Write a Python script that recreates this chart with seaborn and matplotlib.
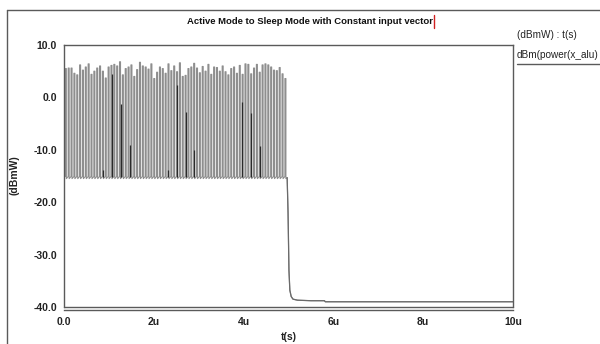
import matplotlib
matplotlib.use("Agg")
import matplotlib.pyplot as plt
import numpy as np
import pandas as pd
import seaborn as sns

# peak level (dBm) of each clock pulse while in active mode, left to right
pulse_peaks = [5.5, 5.6, 5.6, 4.6, 4.3, 6.2, 5.2, 5.8, 6.4, 4.4,
               5.0, 5.6, 6.0, 5.0, 3.7, 5.8, 6.1, 6.3, 6.0, 6.8,
               4.3, 5.5, 5.8, 6.2, 4.0, 5.3, 6.7, 6.0, 5.8, 5.4,
               6.4, 3.6, 4.8, 5.8, 5.5, 4.6, 6.4, 5.1, 6.0, 4.9,
               6.6, 4.0, 4.2, 5.5, 5.8, 6.5, 5.6, 4.7, 5.9, 5.0,
               6.3, 4.4, 5.8, 5.7, 5.0, 6.0, 4.9, 4.3, 5.5, 5.8,
               4.6, 6.1, 4.4, 6.4, 6.3, 4.5, 5.6, 6.3, 4.8, 6.2,
               6.4, 6.2, 5.8, 5.2, 5.1, 5.7, 4.5, 3.6]
first_pulse_us = 0.03
last_pulse_us = 4.92
pulse_width_us = 0.022
base_high = -15.1
base_low = -15.5

# darker glitch pulses (time in us, peak dBm)
glitch_t = [0.86, 1.06, 1.26, 1.46, 2.31, 2.51, 2.71, 2.89, 3.96, 4.16, 4.36]
glitch_v = [-13.8, 4.5, -1.2, -9.0, -13.8, 2.4, -2.8, -10.0, -0.8, -3.0, -9.2]

# transition to sleep mode
sleep_t = [4.97, 4.99, 5.01, 5.03, 5.06, 5.10, 5.20, 5.50, 5.80, 5.82, 10.0]
sleep_v = [-15.3, -22.0, -33.0, -36.8, -38.0, -38.5, -38.7, -38.8, -38.8, -39.0, -39.0]

x_ticks = [0, 2, 4, 6, 8, 10]
x_tick_labels = ["0.0", "2u", "4u", "6u", "8u", "10u"]
y_ticks = [10, 0, -10, -20, -30, -40]
y_tick_labels = ["10.0", "0.0", "-10.0", "-20.0", "-30.0", "-40.0"]

# build the active-mode waveform
pulse_t = np.linspace(first_pulse_us, last_pulse_us, len(pulse_peaks))
wave_t = [0.0]
wave_v = [base_high]
for t, p in zip(pulse_t, pulse_peaks):
    wave_t += [t, t, t + pulse_width_us, t + pulse_width_us]
    wave_v += [base_high, p, p, base_low]
wave_t += sleep_t
wave_v += sleep_v
wave = pd.DataFrame({"t": wave_t, "v": wave_v})

sns.set_style("white")
plt.rcParams["font.family"] = ["Liberation Sans", "DejaVu Sans"]

fig = plt.figure(figsize=(6.0, 3.44), dpi=100)
ax = fig.add_axes([64 / 600, 1 - 307 / 344, 449 / 600, 262 / 344])

frame_col = "#5a5a5a"
sns.lineplot(data=wave, x="t", y="v", sort=False, estimator=None,
             color="#8e8e8e", lw=0.8, ax=ax)
ax.vlines(glitch_t, base_high, glitch_v, color="#2a2a2a", lw=0.9)
sleep_df = pd.DataFrame({"t": sleep_t, "v": sleep_v})
sns.lineplot(data=sleep_df, x="t", y="v", sort=False, estimator=None,
             color="#6a6a6a", lw=0.9, ax=ax)

ax.set_xlim(0, 10)
ax.set_ylim(-40, 10)
ax.set_xticks(x_ticks)
ax.set_xticklabels(x_tick_labels)
ax.set_yticks(y_ticks)
ax.set_yticklabels(y_tick_labels)
ax.set_xlabel("")
ax.set_ylabel("")

for side in ["left", "right", "top", "bottom"]:
    ax.spines[side].set_visible(True)
    ax.spines[side].set_color(frame_col)
    ax.spines[side].set_linewidth(1.0)
ax.spines["bottom"].set_position(("outward", 2.2))
ax.plot([0, 1], [0, 0], transform=ax.transAxes, color=frame_col, lw=1.0,
        clip_on=False)

ax.tick_params(axis="both", which="major", direction="out", length=3,
               width=0.8, color=frame_col, labelsize=7.5, pad=2)
for lab in ax.get_xticklabels() + ax.get_yticklabels():
    lab.set_fontweight("bold")
    lab.set_color("#222222")

# outer window frame
fig.add_artist(plt.Line2D([7 / 600, 1], [1 - 10 / 344] * 2, color=frame_col, lw=1.0))
fig.add_artist(plt.Line2D([7 / 600] * 2, [0, 1 - 10 / 344], color=frame_col, lw=1.0))

fig.text(310 / 600, 1 - 22 / 344, "Active Mode to Sleep Mode with Constant input vector",
         ha="center", va="center", fontsize=6.8, fontweight="bold", color="#111111")
fig.add_artist(plt.Line2D([434 / 600] * 2, [1 - 15 / 344, 1 - 28 / 344], color="#d02020", lw=1.0))

fig.text(15 / 600, 1 - 175 / 344, "(dBmW)", rotation=90, ha="center", va="center",
         fontsize=7.5, fontweight="bold", color="#222222")
fig.text(289 / 600, 1 - 337 / 344, "t(s)", ha="center", va="center",
         fontsize=7.5, fontweight="bold", color="#222222")

# legend area
fig.text(517 / 600, 1 - 35 / 344, "(dBmW) : t(s)", ha="left", va="center",
         fontsize=7.2, color="#222222")
fig.text(517 / 600, 1 - 55 / 344, "dBm(power(x_alu)", ha="left", va="center",
         fontsize=7.2, color="#222222")
fig.add_artist(plt.Line2D([517 / 600, 1], [1 - 64 / 344] * 2, color=frame_col, lw=1.0))

fig.savefig("out.png", dpi=100, facecolor="white")
